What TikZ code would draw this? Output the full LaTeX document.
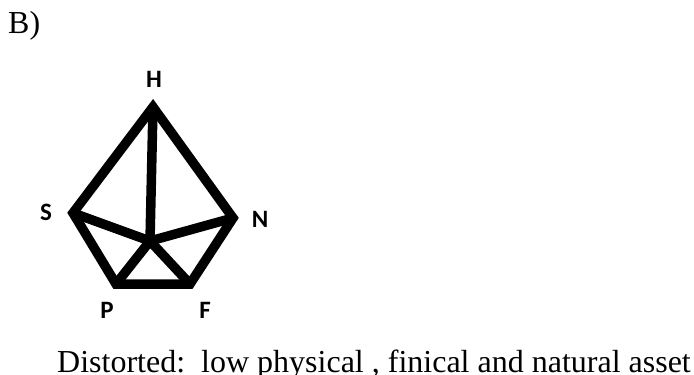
\documentclass[tikz,border=0pt]{standalone}
\usepackage{fontspec}
\setmainfont{Liberation Serif}
\newfontfamily\labelfont{Carlito}
\usetikzlibrary{positioning}

\tikzset{
  edge/.style={line width=9.5pt, line join=miter, line cap=round},
  vlabel/.style={font=\labelfont\bfseries\fontsize{25}{28}\selectfont, inner sep=0pt}
}

\begin{document}
\begin{tikzpicture}[x=1pt, y=-1pt]
        \useasboundingbox (0,0) rectangle (694,375);
        \node[anchor=base west, font=\fontsize{32}{36}\selectfont, inner sep=0pt] (title) at (8,33) {B)};
        % vertices
        \coordinate (H) at (153,107);
        \coordinate (S) at (73,213);
        \coordinate (N) at (233,218);
        \coordinate (c) at (150,241);
        \coordinate (P) at (116,284);
        \coordinate (F) at (190,284);
        % labels
        \node[vlabel] (lH) at (154,79) {H};
        \node[vlabel] (lS) at (46,212) {S};
        \node[vlabel] (lN) at (260,219) {N};
        \node[vlabel] (lP) at (107,310) {P};
        \node[vlabel] (lF) at (205,310) {F};
        \draw[edge] (H) -- (N) -- (F) -- (P) -- (S) -- cycle;
        \draw[edge] (H) -- (c);
        \draw[edge] (S) -- (c) -- (N);
        \draw[edge] (P) -- (c) -- (F);
        \node[anchor=base west, font=\fontsize{32}{36}\selectfont, inner sep=0pt] (caption) at (57,372) {Distorted:\ \ low physical , finical and natural asset};
\end{tikzpicture}
\end{document}
